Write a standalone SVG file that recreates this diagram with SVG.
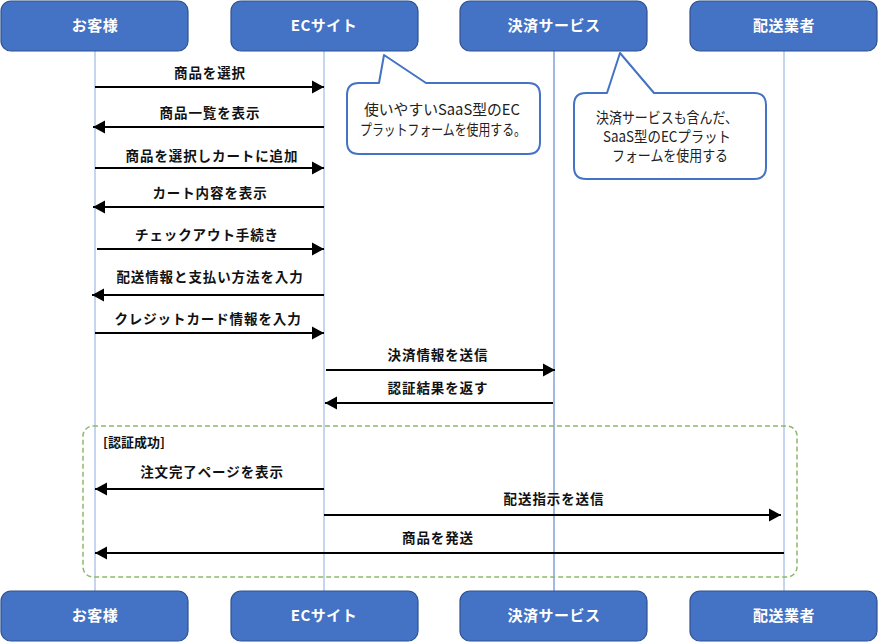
<svg xmlns="http://www.w3.org/2000/svg" width="879" height="643" viewBox="0 0 879 643">
<style>
.box{fill:#4472C4;stroke:#2F528F;stroke-width:1.2}
.bt{font-family:"Noto Sans CJK JP","Noto Sans",sans-serif;font-size:15px;font-weight:bold;fill:#fff;text-anchor:middle;letter-spacing:0.5px}
.life{stroke:#8FAADC;stroke-width:1;fill:none}
.msg{stroke:#000;stroke-width:2;fill:none}
.ml{font-family:"Noto Sans CJK JP","Noto Sans",sans-serif;font-size:13.5px;font-weight:bold;fill:#111;text-anchor:middle;letter-spacing:0.9px}
.call{fill:#fff;stroke:#4472C4;stroke-width:2;stroke-linejoin:round}
.ct{font-family:"Noto Sans CJK JP","Noto Sans",sans-serif;font-size:15px;fill:#222;text-anchor:middle}
.frame{fill:none;stroke:#8DB86A;stroke-width:1.5;stroke-dasharray:5,3}
.fl{font-family:"Noto Sans CJK JP","Noto Sans",sans-serif;font-size:13px;font-weight:bold;fill:#111}
</style>
<defs>
<marker id="ah" markerUnits="userSpaceOnUse" markerWidth="13" markerHeight="14" refX="12" refY="7" orient="auto">
<path d="M0,0.5 L12,7 L0,13.5 Z" fill="#000"/>
</marker>
</defs>

<g id="lifelines">
<line class="life" x1="95" y1="51" x2="95" y2="591"/>
<line class="life" x1="324" y1="51" x2="324" y2="591"/>
<line class="life" x1="554" y1="51" x2="554" y2="591" style="stroke:#4472C4"/>
<line class="life" x1="784" y1="51" x2="784" y2="591"/>
</g>

<g id="frame">
<rect class="frame" x="83" y="426" width="714" height="151" rx="10"/>
<text class="fl" x="103" y="447">[認証成功]</text>
</g>

<g id="connectors">
<line class="msg" x1="95" y1="87" x2="324" y2="87" marker-end="url(#ah)"/>
<text class="ml" x="210" y="78">商品を選択</text>
<line class="msg" x1="324" y1="127" x2="93" y2="127" marker-end="url(#ah)"/>
<text class="ml" x="210" y="118">商品一覧を表示</text>
<line class="msg" x1="95" y1="168" x2="324" y2="168" marker-end="url(#ah)"/>
<text class="ml" x="212" y="161">商品を選択しカートに追加</text>
<line class="msg" x1="324" y1="207" x2="93" y2="207" marker-end="url(#ah)"/>
<text class="ml" x="210" y="198">カート内容を表示</text>
<line class="msg" x1="97" y1="249" x2="324" y2="249" marker-end="url(#ah)"/>
<text class="ml" x="207" y="240">チェックアウト手続き</text>
<line class="msg" x1="324" y1="295" x2="92" y2="295" marker-end="url(#ah)"/>
<text class="ml" x="210" y="282">配送情報と支払い方法を入力</text>
<line class="msg" x1="95" y1="333" x2="324" y2="333" marker-end="url(#ah)"/>
<text class="ml" x="208" y="324">クレジットカード情報を入力</text>
<line class="msg" x1="326" y1="370" x2="555" y2="370" marker-end="url(#ah)"/>
<text class="ml" x="438" y="360">決済情報を送信</text>
<line class="msg" x1="553" y1="403" x2="325" y2="403" marker-end="url(#ah)"/>
<text class="ml" x="438" y="393">認証結果を返す</text>
<line class="msg" x1="324" y1="489" x2="95" y2="489" marker-end="url(#ah)"/>
<text class="ml" x="212" y="477">注文完了ページを表示</text>
<line class="msg" x1="324" y1="515" x2="781" y2="515" marker-end="url(#ah)"/>
<text class="ml" x="554" y="504">配送指示を送信</text>
<line class="msg" x1="784" y1="553" x2="95" y2="553" marker-end="url(#ah)"/>
<text class="ml" x="438" y="543">商品を発送</text>
</g>

<g id="note-ec">
<path class="call" d="M359,83 L379,83 L384,55 L426,83 L528,83 Q540,83 540,95 L540,142 Q540,154 528,154 L359,154 Q347,154 347,142 L347,95 Q347,83 359,83 Z"/>
<text class="ct" x="442" y="115" textLength="156" lengthAdjust="spacingAndGlyphs">使いやすいSaaS型のEC</text>
<text class="ct" x="443" y="135" textLength="166" lengthAdjust="spacingAndGlyphs">プラットフォームを使用する。</text>
</g>

<g id="note-pay">
<path class="call" d="M586,93 L607,93 L620,53 L654,93 L754,93 Q766,93 766,105 L766,167 Q766,179 754,179 L586,179 Q574,179 574,167 L574,105 Q574,93 586,93 Z"/>
<text class="ct" x="667" y="123" textLength="142" lengthAdjust="spacingAndGlyphs">決済サービスも含んだ、</text>
<text class="ct" x="667" y="142" textLength="128" lengthAdjust="spacingAndGlyphs">SaaS型のECプラット</text>
<text class="ct" x="670" y="161" textLength="116" lengthAdjust="spacingAndGlyphs">フォームを使用する</text>
</g>

<g id="node-customer-top"><rect class="box" x="1" y="1" width="187" height="50" rx="10"/><text class="bt" x="95" y="31">お客様</text></g>
<g id="node-ec-top"><rect class="box" x="231" y="1" width="187" height="50" rx="10"/><text class="bt" x="324" y="31">ECサイト</text></g>
<g id="node-pay-top"><rect class="box" x="460" y="1" width="187" height="50" rx="10"/><text class="bt" x="554" y="31">決済サービス</text></g>
<g id="node-ship-top"><rect class="box" x="690" y="1" width="187" height="50" rx="10"/><text class="bt" x="784" y="31">配送業者</text></g>

<g id="node-customer-bottom"><rect class="box" x="1" y="591" width="187" height="50" rx="10"/><text class="bt" x="95" y="621">お客様</text></g>
<g id="node-ec-bottom"><rect class="box" x="231" y="591" width="187" height="50" rx="10"/><text class="bt" x="324" y="621">ECサイト</text></g>
<g id="node-pay-bottom"><rect class="box" x="460" y="591" width="187" height="50" rx="10"/><text class="bt" x="554" y="621">決済サービス</text></g>
<g id="node-ship-bottom"><rect class="box" x="690" y="591" width="187" height="50" rx="10"/><text class="bt" x="784" y="621">配送業者</text></g>
</svg>
